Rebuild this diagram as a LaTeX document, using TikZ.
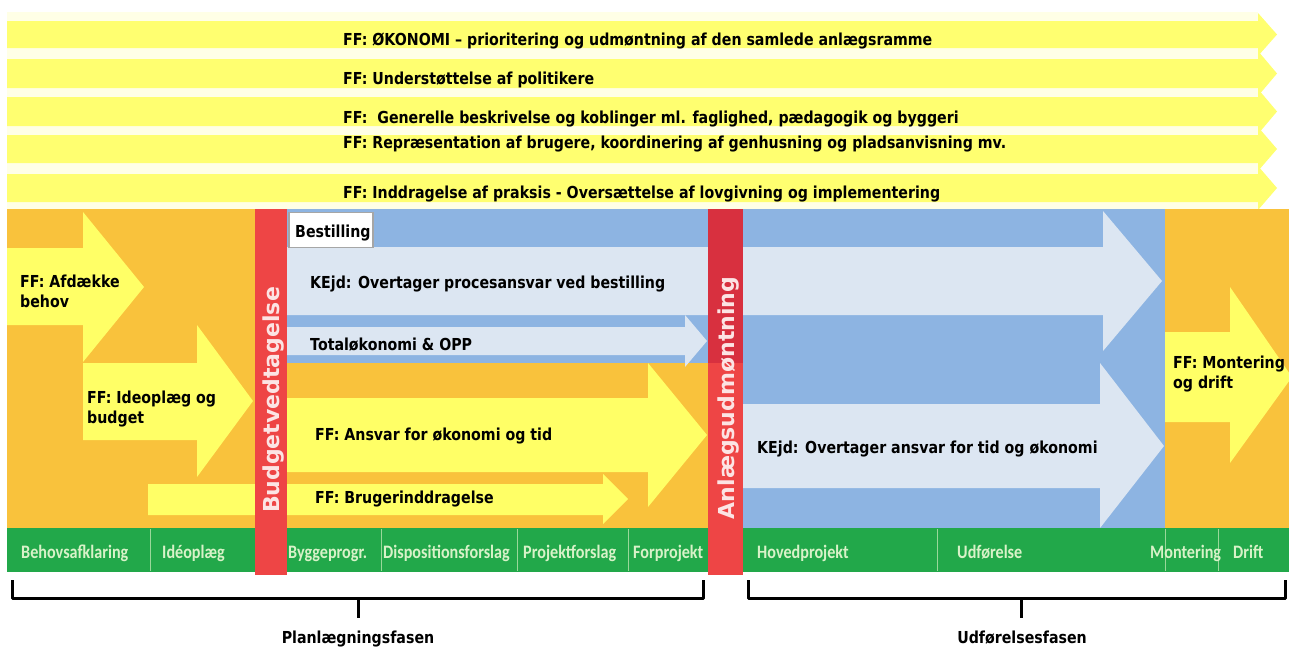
\documentclass[tikz,border=0pt]{standalone}
\usepackage{fontspec}
\newfontfamily\vbf{DejaVu Sans}[FakeStretch=0.86]
\newfontfamily\vbr{DejaVu Sans}
\newfontfamily\cbf{Carlito}[FakeStretch=0.85]
\newcommand\tfnt{\vbf\bfseries\fontsize{16.5}{20}\selectfont}
\newcommand\gfnt{\cbf\bfseries\fontsize{19}{22}\selectfont}
\newcommand\rfnt{\vbr\bfseries\fontsize{22}{25}\selectfont}
\definecolor{orng}{HTML}{F9C23C}
\definecolor{yel}{HTML}{FFFF66}
\definecolor{topyel}{HTML}{FFFF70}
\definecolor{pale}{HTML}{FFFFE6}
\definecolor{bdark}{HTML}{8DB4E2}
\definecolor{blight}{HTML}{DCE6F2}
\definecolor{rbar}{HTML}{EE4545}
\definecolor{rdark}{HTML}{D8303F}
\definecolor{grn}{HTML}{22A84A}
\definecolor{gtxt}{HTML}{D8F2C8}
\definecolor{gsep}{HTML}{9AD89A}
\definecolor{rtxt}{HTML}{FCE4E4}
\tikzset{
  lbl/.style={anchor=base west, inner sep=0pt, font=\tfnt, text=black},
  glbl/.style={anchor=base west, inner sep=0pt, font=\gfnt, text=gtxt},
  vlbl/.style={rotate=90, inner sep=0pt, text height=16pt, text depth=0pt, font=\rfnt, text=rtxt},
  phase/.style={anchor=base, inner sep=0pt, font=\tfnt, text=black},
  brace/.style={line width=3pt, black, line join=round},
}
\begin{document}
\begin{tikzpicture}[x=1pt,y=-1pt]
\useasboundingbox (0,0) rectangle (1289,648);
\fill[white] (0,0) rectangle (1289,648);
% top band
\fill[pale] (7,12) rectangle (1258,209);
\foreach \t/\b in {21/48,59/88,97/126,135/163,174/202}{
  \fill[topyel] (7,\t) -- (1258,\t) -- (1258,{\t-8}) -- (1277,{(\t+\b)/2}) -- (1258,{\b+8}) -- (1258,\b) -- (7,\b) -- cycle;
}
% main orange area
\fill[orng] (7,209) rectangle (1289,528);
% blue areas
\fill[bdark] (287,209) rectangle (708,363);
\fill[bdark] (743,209) rectangle (1165,528);
% left arrows
\fill[yel] (7,248) -- (83,248) -- (83,212) -- (144,287) -- (83,362) -- (83,325) -- (7,325) -- cycle;
\fill[yel] (83,363) -- (197,363) -- (197,325) -- (253,401) -- (197,477) -- (197,440) -- (83,440) -- cycle;
% middle yellow arrows
\fill[yel] (287,398) -- (648,398) -- (648,363) -- (707,435) -- (648,507) -- (648,472) -- (287,472) -- cycle;
\fill[yel] (148,484) -- (603,484) -- (603,474) -- (628,499) -- (603,524) -- (603,515) -- (148,515) -- cycle;
% blue arrows
\fill[blight] (287,247) -- (1103,247) -- (1103,211) -- (1162,281) -- (1103,351) -- (1103,315) -- (287,315) -- cycle;
\fill[blight] (287,327) -- (685,327) -- (685,315) -- (707,341) -- (685,367) -- (685,355) -- (287,355) -- cycle;
\fill[blight] (743,404) -- (1100,404) -- (1100,363) -- (1164,446) -- (1100,528) -- (1100,488) -- (743,488) -- cycle;
% right arrow
\fill[yel] (1165,332) -- (1230,332) -- (1230,287) -- (1292,377) -- (1230,463) -- (1230,422) -- (1165,422) -- cycle;
% Bestilling box
\node[draw=gray!70, line width=1.2pt, fill=white, minimum width=84pt, minimum height=35pt, inner sep=0pt] (best) at (331,230) {};
\node[lbl] (bestt) at (295,237) {Bestilling};
% green bar
\fill[grn] (7,528) rectangle (1289,572);
\foreach \x in {150,381,517,628,937,1165,1218}{
  \draw[gsep, line width=1pt] (\x,529) -- (\x,571);
}
% red bars
\fill[rbar] (255,209) rectangle (287,575);
\fill[rbar] (708,209) rectangle (743,575);
\fill[rdark] (708,209) rectangle (743,363);
\node[vlbl] (budget) at (271,400) {Budgetvedtagelse};
\node[vlbl] (anlaeg) at (726,398) {Anlægsudmøntning};
% top texts
\node[lbl] (t1) at (343,45) {FF: ØKONOMI – prioritering og udmøntning af den samlede anlægsramme};
\node[lbl] (t2) at (343,84) {FF: Understøttelse af politikere};
\node[lbl] (t3) at (343,123) {FF:\ \ Generelle beskrivelse og koblinger ml. faglighed, pædagogik og byggeri};
\node[lbl] (t4) at (343,148) {FF: Repræsentation af brugere, koordinering af genhusning og pladsanvisning mv.};
\node[lbl] (t5) at (343,198) {FF: Inddragelse af praksis - Oversættelse af lovgivning og implementering};
% arrow texts
\node[lbl] (a1) at (20,287) {FF: Afdække};
\node[lbl] (a1b) at (20,307) {behov};
\node[lbl] (a2) at (87,403) {FF: Ideoplæg og};
\node[lbl] (a2b) at (87,423) {budget};
\node[lbl] (k1) at (310,288) {KEjd: Overtager procesansvar ved bestilling};
\node[lbl] (tot) at (310,350) {Totaløkonomi \& OPP};
\node[lbl] (ans) at (315,440) {FF: Ansvar for økonomi og tid};
\node[lbl] (bru) at (315,503) {FF: Brugerinddragelse};
\node[lbl] (k2) at (757,453) {KEjd: Overtager ansvar for tid og økonomi};
\node[lbl] (mon) at (1173,368) {FF: Montering};
\node[lbl] (monb) at (1173,388) {og drift};
% green labels
\node[glbl] (g1) at (21,558) {Behovsafklaring};
\node[glbl] (g2) at (162,558) {Idéoplæg};
\node[glbl] (g3) at (288,558) {Byggeprogr.};
\node[glbl] (g4) at (383,558) {Dispositionsforslag};
\node[glbl] (g5) at (523,558) {Projektforslag};
\node[glbl] (g6) at (633,558) {Forprojekt};
\node[glbl] (g7) at (757,558) {Hovedprojekt};
\node[glbl] (g8) at (957,558) {Udførelse};
\node[glbl] (g9) at (1150,558) {Montering};
\node[glbl] (g10) at (1233,558) {Drift};
% brackets
\coordinate (bl1) at (12,580); \coordinate (bl2) at (703,580); \coordinate (blm) at (358,598); \coordinate (blt) at (358,618);
\coordinate (br1) at (748,580); \coordinate (br2) at (1285,580); \coordinate (brm) at (1021,598); \coordinate (brt) at (1021,618);
\draw[brace] (bl1) -- (12,598) -- (703,598) -- (bl2);
\draw[brace] (blm) -- (blt);
\draw[brace] (br1) -- (748,598) -- (1285,598) -- (br2);
\draw[brace] (brm) -- (brt);
\node[phase] (p1) at (358,643) {Planlægningsfasen};
\node[phase] (p2) at (1022,643) {Udførelsesfasen};
\end{tikzpicture}
\end{document}
